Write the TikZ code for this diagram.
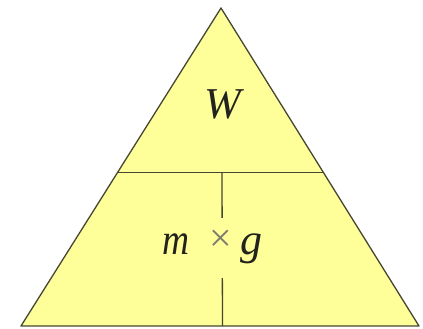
\documentclass[tikz,border=0pt]{standalone}
\usepackage{fontspec}
\setmainfont{Liberation Serif}
\usetikzlibrary{calc}
\definecolor{triyellow}{RGB}{255,255,153}
\definecolor{triline}{RGB}{70,70,50}
\definecolor{txt}{RGB}{35,35,30}
\definecolor{timesgray}{RGB}{125,125,110}
\tikzset{
  edge/.style={draw=triline, line width=1.3pt},
  lbl/.style={font=\fontsize{44}{44}\selectfont\itshape, text=txt, inner sep=0pt},
}
\begin{document}
\begin{tikzpicture}[x=1pt,y=1pt]
\useasboundingbox[fill=white] (0,0) rectangle (423,329);
\coordinate (A) at (221,321);
\coordinate (L) at (21,3);
\coordinate (R) at (419,3);
\coordinate (HL) at ($(A)!0.517!(L)$);
\coordinate (HR) at ($(A)!0.517!(R)$);
\coordinate (VT) at ($(HL)!0.5!(HR)+(1.5,0)$);
\coordinate (VB) at (222.5,3);
\fill[triyellow] (A) -- (L) -- (R) -- cycle;
\draw[edge] (HL) -- (HR);
\draw[edge] (VT) -- (VB);
\draw[edge, line join=round] (A) -- (L) -- (R) -- cycle;
\node[lbl, anchor=base] (W) at (223,210) {W};
\node[fill=triyellow, minimum width=40pt, minimum height=60pt, inner sep=0pt] (gap) at (222,81) {};
\node[lbl, anchor=base, xscale=0.85] (m) at (176,74) {m};
\node[anchor=base, inner sep=0pt, text=timesgray, font=\fontsize{40}{40}\selectfont] (x) at (221,77) {×};
\node[lbl, anchor=base] (g) at (251,74) {g};
\end{tikzpicture}
\end{document}
